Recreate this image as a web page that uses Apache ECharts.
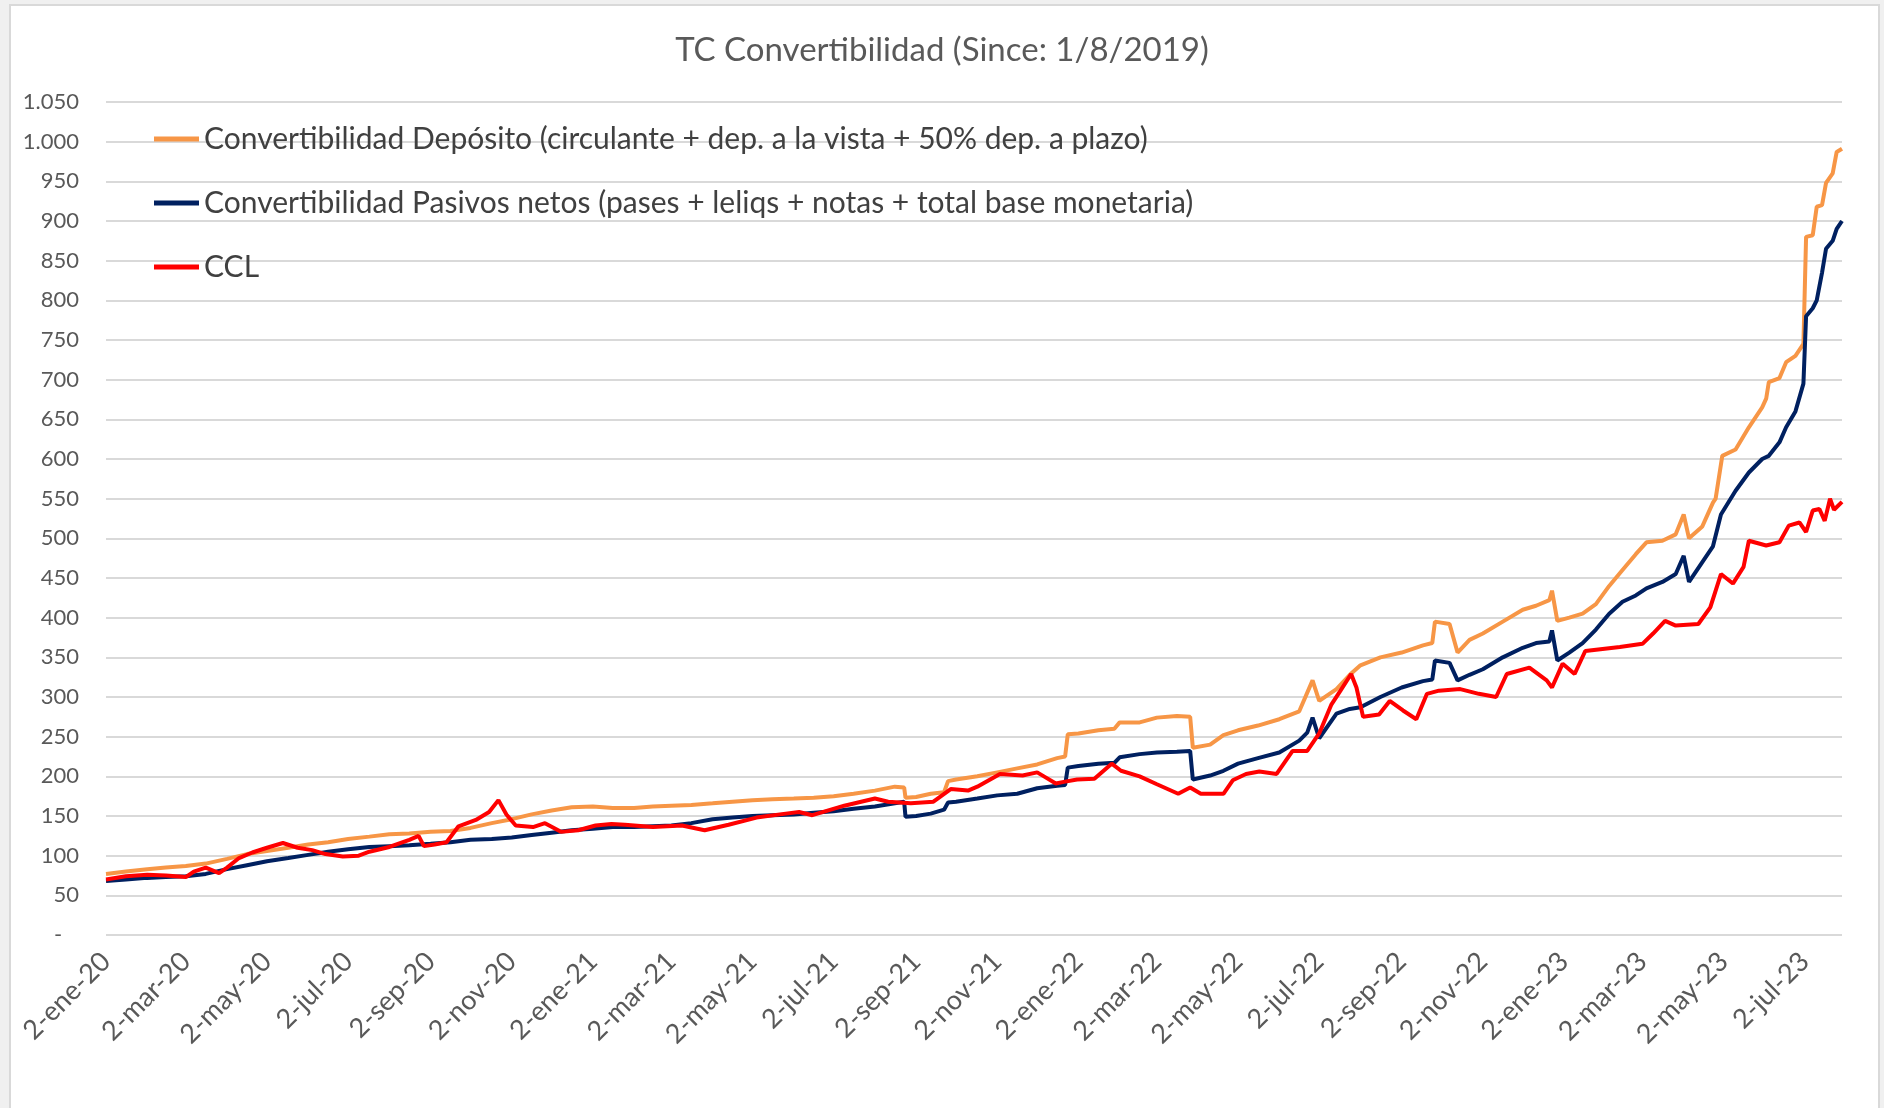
<!DOCTYPE html>
<html>
<head>
<meta charset="utf-8">
<script src="https://cdn.jsdelivr.net/npm/echarts@6/dist/echarts.min.js"></script>
<style>
  html, body { margin: 0; padding: 0; background: #f0f0f0; }
  #frame { position: absolute; left: 9px; top: 4px; width: 1871px; height: 1110px; background: #fff; border: 2px solid #d9d9d9; box-sizing: border-box; }
  #chart { position: absolute; left: 0; top: 0; width: 1884px; height: 1108px; }
</style>
</head>
<body>
<div id="frame"></div>
<div id="chart"></div>
<script>
// x values = days since 2-ene-2020
const tickDays = [0,60,121,182,244,305,366,425,486,547,609,670,731,790,851,912,974,1035,1096,1155,1216,1277];
const tickLabels = ['2-ene-20','2-mar-20','2-may-20','2-jul-20','2-sep-20','2-nov-20','2-ene-21','2-mar-21','2-may-21','2-jul-21','2-sep-21','2-nov-21','2-ene-22','2-mar-22','2-may-22','2-jul-22','2-sep-22','2-nov-22','2-ene-23','2-mar-23','2-may-23','2-jul-23'];
const lastDay = 1305;

const seriesNames = [
  'Convertibilidad Depósito (circulante + dep. a la vista + 50% dep. a plazo)',
  'Convertibilidad Pasivos netos (pases + leliqs + notas + total base monetaria)',
  'CCL'
];

const orangeDays = [0,15,31,45,60,75,91,106,121,137,152,167,182,198,213,228,244,259,274,290,305,320,335,350,366,381,397,411,425,440,456,471,486,501,517,532,547,562,578,593,600,601,609,620,630,633,639,655,670,685,700,715,721,723,731,746,758,762,777,790,805,815,817,830,840,851,866,882,897,907,912,925,935,943,958,974,990,997,999,1010,1016,1025,1035,1050,1065,1075,1085,1087,1091,1100,1110,1120,1130,1140,1150,1158,1170,1180,1186,1190,1200,1208,1210,1215,1225,1235,1245,1248,1250,1258,1263,1270,1276,1278,1283,1286,1290,1293,1298,1301,1305];
const orangeVals = [77,80,83,85,87,90,96,102,106,110,114,117,121,124,127,128,130,131,135,141,146,152,157,161,162,160,160,162,163,164,166,168,170,171,172,173,175,178,182,187,186,173,174,178,180,194,196,200,205,210,215,223,225,253,254,258,260,268,268,274,276,275,236,240,252,258,264,272,282,321,295,310,328,340,350,356,365,368,395,392,356,372,380,395,410,415,422,434,396,400,405,417,440,460,480,495,497,505,530,500,515,545,550,604,612,640,665,676,697,702,722,730,745,880,882,918,920,948,960,987,991];

const blueDays = [0,15,31,45,60,75,91,106,121,137,152,167,182,198,213,228,244,259,274,290,305,320,335,350,366,381,397,411,425,440,456,471,486,501,517,532,547,562,578,593,600,601,609,620,630,633,639,655,670,685,700,715,721,723,731,746,758,762,777,790,805,815,817,830,840,851,866,882,897,903,907,912,925,935,943,958,974,990,997,999,1010,1016,1025,1035,1050,1065,1075,1085,1087,1091,1100,1110,1120,1130,1140,1150,1158,1170,1180,1186,1190,1200,1208,1214,1225,1235,1245,1250,1258,1263,1270,1276,1278,1283,1286,1290,1293,1298,1301,1305];
const blueVals = [68,70,72,73,74,77,83,88,93,97,101,105,108,111,112,113,115,117,120,121,123,126,129,132,134,136,136,137,138,141,146,148,150,151,152,154,156,159,162,166,168,149,150,153,158,167,168,172,176,178,185,188,189,211,213,216,217,224,228,230,231,232,196,201,207,216,223,230,245,255,274,248,279,285,287,300,312,320,322,346,343,321,328,335,350,362,368,370,384,346,356,368,385,405,420,428,437,445,455,478,445,470,490,530,560,583,600,604,621,640,660,695,780,790,800,835,865,875,890,900];

const redDays = [0,15,31,45,60,66,75,85,91,100,110,121,133,144,155,165,178,190,198,213,228,235,239,247,256,265,278,288,295,301,308,321,330,342,355,368,380,390,411,433,450,468,489,511,521,531,555,578,588,605,622,635,648,655,672,689,700,706,714,720,730,743,756,763,777,790,806,815,823,840,847,857,867,880,892,903,912,921,928,936,940,945,957,965,975,985,993,1002,1018,1032,1045,1053,1070,1083,1087,1095,1104,1112,1138,1155,1163,1172,1180,1197,1206,1214,1223,1231,1235,1248,1258,1265,1273,1278,1283,1288,1292,1296,1299,1305];
const redVals = [70,74,76,75,73,80,85,78,85,97,104,110,116,110,107,102,99,100,105,111,120,125,112,114,117,137,145,155,170,152,138,136,141,130,132,138,140,139,136,138,132,139,148,153,155,151,163,172,168,166,168,184,182,187,203,201,205,199,191,193,196,197,216,207,200,190,178,186,178,178,195,203,206,203,232,232,254,290,308,329,312,275,278,295,283,272,304,308,310,304,300,329,337,321,312,342,329,358,363,367,380,396,390,392,413,455,443,464,497,491,495,516,520,508,535,537,522,550,536,546];

function zip(xs, ys) { return xs.map((x, i) => [x, ys[i]]); }
function fmtY(v) {
  if (v === 0) return '-   ';
  const s = String(v);
  return v >= 1000 ? s.slice(0, -3) + '.' + s.slice(-3) : s;
}
const FONT = 'Lato, "Open Sans", sans-serif';

const chart = echarts.init(document.getElementById('chart'), null, { renderer: 'canvas' });
chart.setOption({
  animation: false,
  backgroundColor: 'transparent',
  textStyle: { fontFamily: FONT },
  title: {
    text: 'TC Convertibilidad (Since: 1/8/2019)',
    left: 'center',
    top: 29,
    textStyle: { fontFamily: FONT, fontSize: 33, fontWeight: 'normal', color: '#595959' }
  },
  legend: {
    orient: 'vertical',
    left: 149,
    top: 117,
    icon: 'rect',
    itemWidth: 45,
    itemHeight: 5,
    itemGap: 30,
    data: seriesNames,
    textStyle: { fontFamily: FONT, fontSize: 30, lineHeight: 34, color: '#404040' }
  },
  grid: { left: 106, right: 42, top: 102, bottom: 173, containLabel: false },
  xAxis: {
    type: 'value',
    min: 0,
    max: lastDay,
    splitLine: { show: false },
    axisLine: { show: false },
    axisTick: { show: false },
    axisLabel: {
      customValues: tickDays,
      rotate: 45,
      margin: 22,
      fontFamily: FONT,
      fontSize: 27,
      color: '#595959',
      formatter: function (v) {
        const i = tickDays.indexOf(Math.round(v));
        return i >= 0 ? tickLabels[i] : '';
      }
    }
  },
  yAxis: {
    type: 'value',
    min: 0,
    max: 1050,
    interval: 50,
    axisLine: { show: false },
    axisTick: { show: false },
    splitLine: { lineStyle: { color: '#d9d9d9', width: 2 } },
    axisLabel: {
      margin: 27,
      fontFamily: FONT,
      fontSize: 22,
      color: '#595959',
      formatter: fmtY
    }
  },
  series: [
    { name: seriesNames[0], type: 'line', data: zip(orangeDays, orangeVals), showSymbol: false, symbol: 'none',
      lineStyle: { color: '#F79646', width: 4 }, itemStyle: { color: '#F79646' } },
    { name: seriesNames[1], type: 'line', data: zip(blueDays, blueVals), showSymbol: false, symbol: 'none',
      lineStyle: { color: '#002060', width: 4 }, itemStyle: { color: '#002060' } },
    { name: seriesNames[2], type: 'line', data: zip(redDays, redVals), showSymbol: false, symbol: 'none',
      lineStyle: { color: '#FF0000', width: 4 }, itemStyle: { color: '#FF0000' } }
  ]
});
</script>
</body>
</html>
